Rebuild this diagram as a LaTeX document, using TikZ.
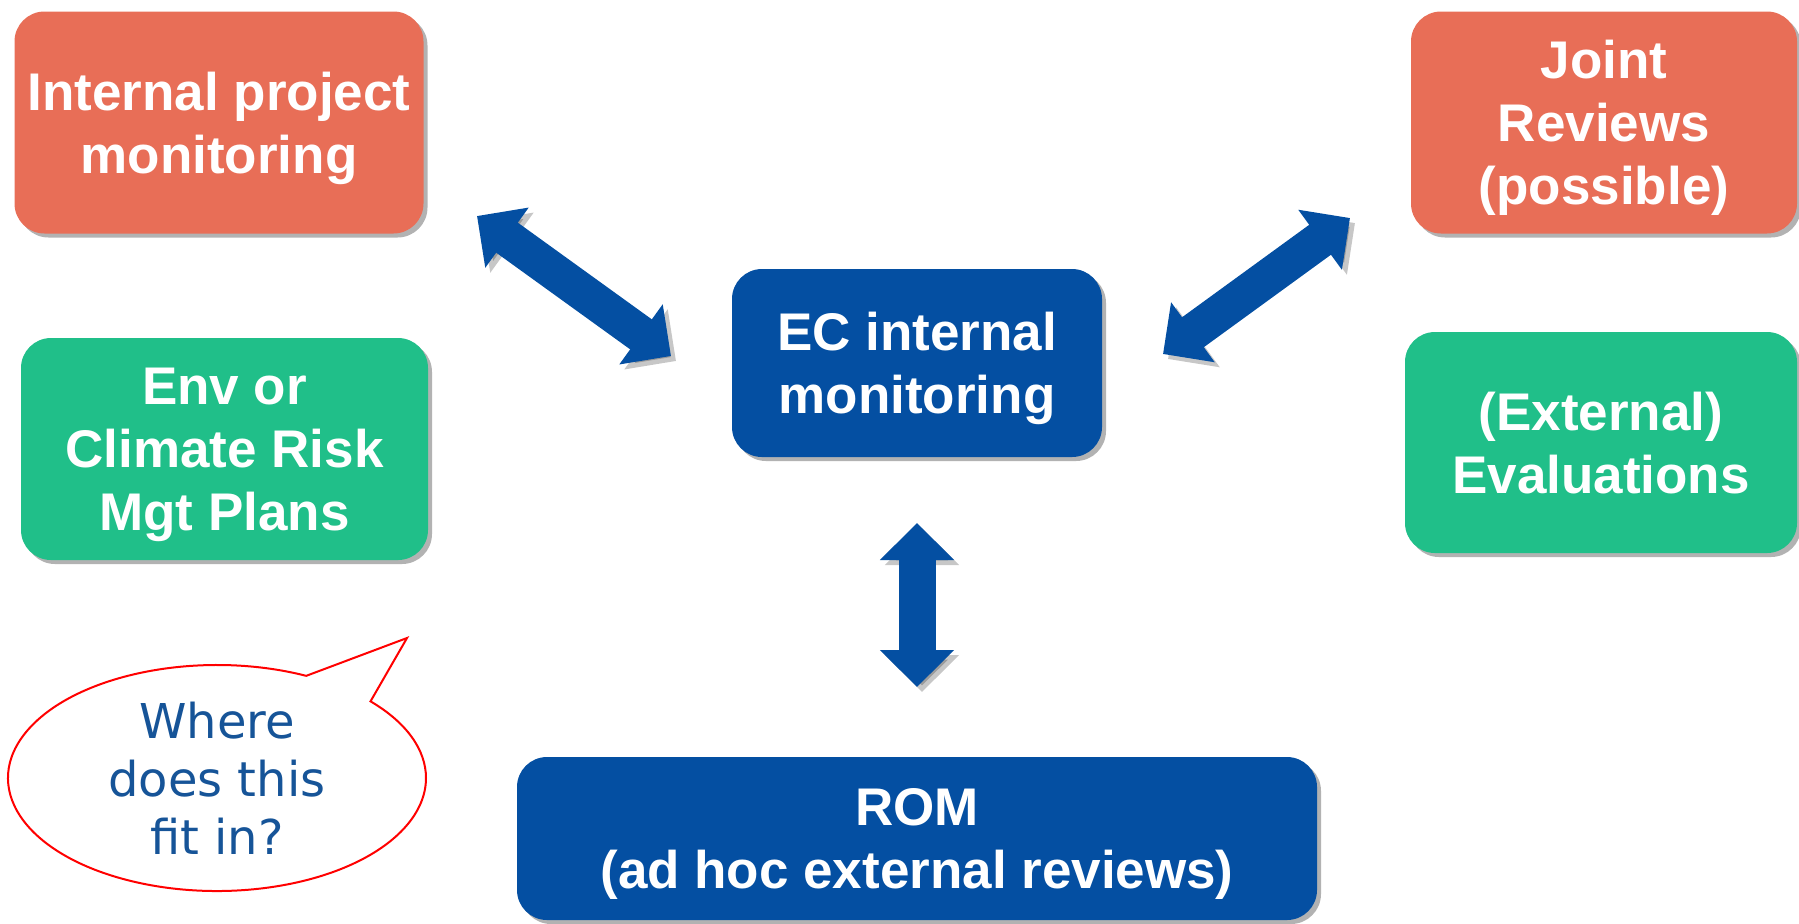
\documentclass[tikz,border=0pt]{standalone}
\usepackage{fontspec}
\setmainfont{Liberation Sans}
\newfontfamily\askfont{DejaVu Sans}
\usetikzlibrary{arrows.meta, shadows, shapes.callouts}
\definecolor{mgtorange}{RGB}{232,110,87}
\definecolor{mgtgreen}{RGB}{32,191,137}
\definecolor{mgtblue}{RGB}{4,79,162}
\definecolor{askblue}{RGB}{22,84,152}
\tikzset{
  mgt box/.style={
    rounded corners=15pt,
    text=white,
    align=center,
    inner sep=0pt,
    text depth=0pt,
    font=\fontsize{26.5pt}{31.5pt}\selectfont\bfseries,
    drop shadow={shadow xshift=2pt, shadow yshift=-2pt, opacity=.3, fill=black},
  },
  big arrow/.style={
    line width=18.5pt,
    draw=mgtblue,
    {Triangle[length=18.5pt, width=36pt]}-{Triangle[length=18.5pt, width=36pt]},
    preaction={draw=black, opacity=.22, transform canvas={xshift=2.5pt, yshift=-2.5pt}},
  },
}

\begin{document}
\begin{tikzpicture}[x=0.5pt, y=-0.5pt]
      \useasboundingbox (0,0) rectangle (1799,923);

      \node[mgt box, fill=mgtorange, minimum width=204.5pt, minimum height=111pt] (int) at (219,122.5) {Internal project\\monitoring};
      \node[mgt box, fill=mgtorange, minimum width=193pt, minimum height=111pt] (joint) at (1604,122.5) {Joint\\Reviews\\(possible)};
      \node[mgt box, fill=mgtgreen, minimum width=203.5pt, minimum height=111pt] (env) at (224.5,449) {Env or\\Climate Risk\\Mgt Plans};
      \node[mgt box, fill=mgtgreen, minimum width=196pt, minimum height=110.5pt] (eval) at (1601,442.5) {(External)\\Evaluations};
      \node[mgt box, fill=mgtblue, minimum width=185pt, minimum height=94pt] (ec) at (917,363) {EC internal\\monitoring};
      \node[mgt box, fill=mgtblue, minimum width=400pt, minimum height=81.5pt] (rom) at (917,838.5) {ROM\\(ad hoc external reviews)};

      \node[ellipse callout, draw=red, line width=1pt, fill=white, inner sep=0pt,
        minimum width=209pt, minimum height=113pt,
        callout absolute pointer={(407,638)}, callout pointer arc=22,
        text=askblue, align=center, font=\askfont\fontsize{24pt}{29pt}\selectfont]
        (ask) at (217,778) {Where\\does this\\fit in?};

      \coordinate (int end) at (477,216);
      \coordinate (ec west end) at (671,356);
      \coordinate (joint end) at (1350,218);
      \coordinate (ec east end) at (1163,354);
      \coordinate (ec south end) at (917,523);
      \coordinate (rom end) at (917,687);

      \draw[big arrow] (int end) -- (ec west end);
      \draw[big arrow] (joint end) -- (ec east end);
      \draw[big arrow] (ec south end) -- (rom end);
    \end{tikzpicture}
\end{document}
